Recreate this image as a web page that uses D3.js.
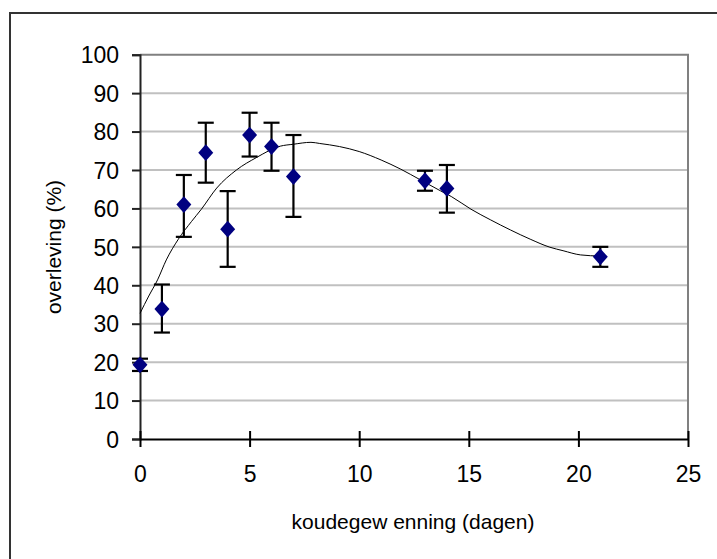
<!DOCTYPE html>
<html>
<head>
<meta charset="utf-8">
<script src="https://cdn.jsdelivr.net/npm/d3@7"></script>
<style>
  body { margin: 0; background: #fff; }
  text { font-family: "Liberation Sans", Arial, sans-serif; fill: #000; }
</style>
</head>
<body>
<svg id="chart" width="717" height="559"></svg>
<script>
"use strict";
// days of cold acclimation
var days     = [0, 1, 2, 3, 4, 5, 6, 7, 13, 14, 21];
var survival = [19.3, 33.8, 61.0, 74.5, 54.6, 79.1, 76.1, 68.3, 67.2, 65.2, 47.4];
var errHigh  = [20.9, 40.2, 68.7, 82.3, 64.5, 84.9, 82.3, 79.1, 69.8, 71.3, 50.0];
var errLow   = [17.7, 27.7, 52.6, 66.7, 44.8, 73.5, 69.8, 57.8, 64.6, 58.9, 44.8];

// trendline
var trendX = [0, 0.4, 0.8, 1.2, 1.75, 2.35, 2.8, 3.5, 4.4, 5.3, 6.4, 7.0, 7.8, 8.2, 9.1, 10.0, 11.0, 11.9, 12.8, 13.7, 14.2, 15.1, 16.0, 16.9, 17.8, 18.7, 19.3, 20.1, 21.0];
var trendY = [32.7, 37.2, 41.4, 46.6, 52.0, 56.6, 59.8, 65.3, 70.0, 73.2, 76.2, 76.7, 77.2, 76.9, 76.1, 74.8, 72.6, 70.2, 67.4, 64.6, 63.1, 59.8, 57.0, 54.4, 52.0, 49.9, 49.0, 47.9, 47.6];

var xTicks = [0, 5, 10, 15, 20, 25];
var yTicks = [0, 10, 20, 30, 40, 50, 60, 70, 80, 90, 100];

var svg = d3.select("#chart");

// outer chart border (runs off the right and bottom edge)
svg.append("rect")
    .attr("x", 10).attr("y", 13)
    .attr("width", 730).attr("height", 570)
    .style("fill", "none")
    .style("stroke", "#333")
    .style("stroke-width", 2);

var x = d3.scaleLinear().domain([0, 25]).range([140, 688]);
var y = d3.scaleLinear().domain([0, 100]).range([439, 54.7]);

// gridlines
svg.append("g")
    .selectAll("line")
    .data(yTicks.filter(function (d) { return d > 0 && d < 100; }))
    .enter().append("line")
    .attr("x1", x(0)).attr("x2", x(25))
    .attr("y1", function (d) { return y(d); })
    .attr("y2", function (d) { return y(d); })
    .style("stroke", "#c0c0c0")
    .style("stroke-width", 2);

// plot area frame top/right
svg.append("polyline")
    .attr("points", x(0) + "," + y(100) + " " + x(25) + "," + y(100) + " " + x(25) + "," + y(0))
    .style("fill", "none")
    .style("stroke", "#808080")
    .style("stroke-width", 2);

// y axis
var yAxis = svg.append("g")
    .attr("transform", "translate(" + x(0) + ",0)")
    .call(d3.axisLeft(y).tickValues(yTicks).tickSize(8).tickPadding(13));
yAxis.select(".domain").style("stroke", "#222").style("stroke-width", 2);
yAxis.selectAll(".tick line").style("stroke", "#222").style("stroke-width", 2);
yAxis.selectAll("text").style("font-size", "23px").attr("dy", "0.36em");

// x axis (ticks cross the line)
var xAxis = svg.append("g")
    .attr("transform", "translate(0," + y(0) + ")")
    .call(d3.axisBottom(x).tickValues(xTicks).tickSizeInner(8).tickSizeOuter(0).tickPadding(19));
xAxis.select(".domain").style("stroke", "#000").style("stroke-width", 2);
xAxis.selectAll(".tick line").attr("y1", -8).style("stroke", "#000").style("stroke-width", 2);
xAxis.selectAll("text").style("font-size", "23px");

// axis titles
svg.append("text")
    .attr("x", 413).attr("y", 529)
    .attr("text-anchor", "middle")
    .style("font-size", "21px")
    .text("koudegew enning (dagen)");

svg.append("text")
    .attr("transform", "translate(61," + 247 + ") rotate(-90)")
    .attr("text-anchor", "middle")
    .style("font-size", "21px")
    .text("overleving (%)");

// trendline
var line = d3.line()
    .x(function (d, i) { return x(trendX[i]); })
    .y(function (d) { return y(d); })
    .curve(d3.curveMonotoneX);

svg.append("path")
    .datum(trendY)
    .attr("d", line)
    .style("fill", "none")
    .style("stroke", "#000")
    .style("stroke-width", 1);

// error bars
var eb = svg.append("g").selectAll("g")
    .data(days)
    .enter().append("g");

eb.append("line")
    .attr("x1", function (d) { return x(d); })
    .attr("x2", function (d) { return x(d); })
    .attr("y1", function (d, i) { return y(errLow[i]); })
    .attr("y2", function (d, i) { return y(errHigh[i]); });
eb.append("line")
    .attr("x1", function (d) { return x(d) - 8; })
    .attr("x2", function (d) { return x(d) + 8; })
    .attr("y1", function (d, i) { return y(errHigh[i]); })
    .attr("y2", function (d, i) { return y(errHigh[i]); });
eb.append("line")
    .attr("x1", function (d) { return x(d) - 8; })
    .attr("x2", function (d) { return x(d) + 8; })
    .attr("y1", function (d, i) { return y(errLow[i]); })
    .attr("y2", function (d, i) { return y(errLow[i]); });
eb.selectAll("line")
    .style("stroke", "#000")
    .style("stroke-width", 2.2);

// diamond markers
svg.append("g").selectAll("path")
    .data(days)
    .enter().append("path")
    .attr("d", d3.symbol().type(d3.symbolSquare).size(112))
    .attr("transform", function (d, i) {
        return "translate(" + x(d) + "," + y(survival[i]) + ") scale(1,1.12) rotate(45)";
    })
    .style("fill", "#000080");
</script>
</body>
</html>
